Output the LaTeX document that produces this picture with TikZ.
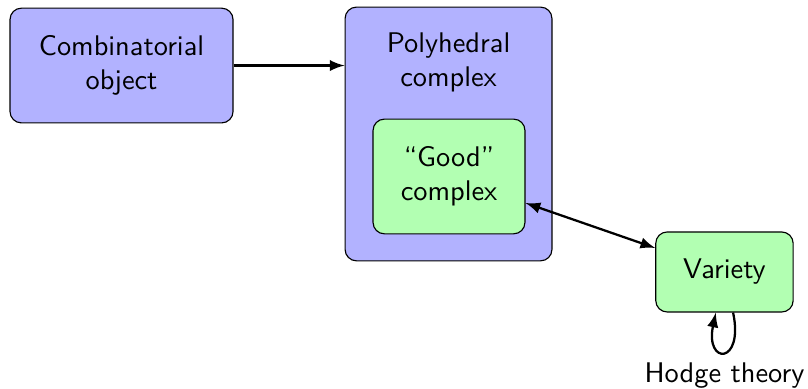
\documentclass[tikz,border=0pt]{standalone}
\usetikzlibrary{backgrounds,shapes}
\pgfdeclarelayer{edgelayer}
\pgfdeclarelayer{nodelayer}
\pgfsetlayers{edgelayer,nodelayer,main}
\tikzset{font=\sffamily}
\tikzstyle{none}=[inner sep=0pt,align=center]
\tikzstyle{bluebox}=[rectangle,rounded corners,draw,fill=blue!30,align=center]
\tikzstyle{greenbox}=[rectangle,rounded corners,draw,fill=green!30,align=center]
\tikzstyle{arr}=[thick,-latex]
\tikzstyle{dblarr}=[thick,latex-latex]

\begin{document}
\begin{tikzpicture}
	\useasboundingbox (0,0) rectangle (10,-4.802);
	\begin{pgfonlayer}{nodelayer}
		\node [style=bluebox, minimum width=2.76cm, minimum height=1.42cm] (0) at (1.504, -0.811) {Combinatorial\\object};
		\node [style=bluebox, minimum width=2.56cm, minimum height=3.14cm] (1) at (5.551, -1.658) {};
		\node [style=none] (2) at (5.551, -0.77) {Polyhedral\\complex};
		\node [style=greenbox, minimum width=1.88cm, minimum height=1.42cm] (3) at (5.557, -2.184) {``Good''\\complex};
		\node [style=greenbox, minimum width=1.70cm, minimum height=0.99cm] (4) at (8.966, -3.366) {Variety};
	\end{pgfonlayer}
	\begin{pgfonlayer}{edgelayer}
		\draw [style=arr] (0.east) to (0.east -| 1.west);
		\draw [style=arr] (4) to [loop below, out=282, in=258, looseness=8, min distance=3mm] node [below] {Hodge theory} (4);
	\end{pgfonlayer}
	\draw [style=dblarr] (3) to (4);
\end{tikzpicture}
\end{document}
